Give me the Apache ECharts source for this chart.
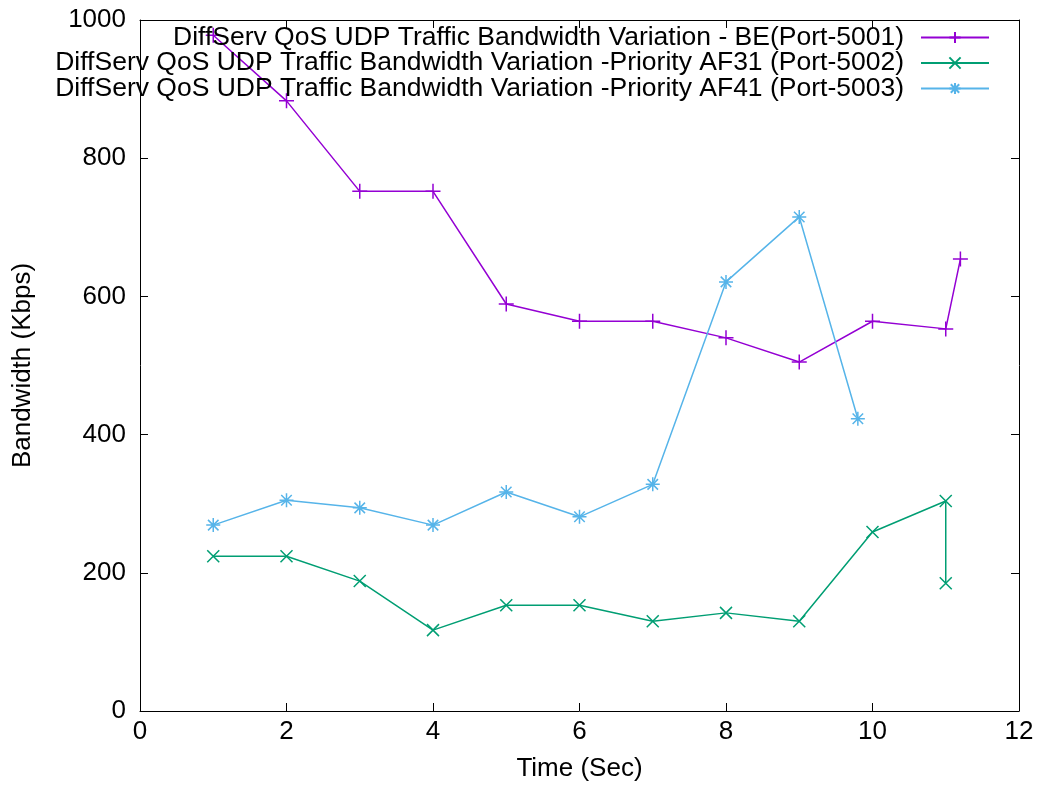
<!DOCTYPE html>
<html>
<head>
<meta charset="utf-8">
<script src="https://cdn.jsdelivr.net/npm/echarts@6/dist/echarts.min.js"></script>
<style>html,body{margin:0;padding:0;background:#fff;}#c{width:1041px;height:790px;}</style>
</head>
<body>
<div id="c"></div>
<script>
// ---- data ----
const seriesNames = [
  'DiffServ QoS UDP Traffic Bandwidth Variation - BE(Port-5001)',
  'DiffServ QoS UDP Traffic Bandwidth Variation -Priority AF31 (Port-5002)',
  'DiffServ QoS UDP Traffic Bandwidth Variation -Priority AF41 (Port-5003)'
];
const beX   = [1, 2, 3, 4, 5, 6, 7, 8, 9, 10, 11, 11.2];
const beY   = [978, 883, 752, 752, 589, 564, 564, 540, 505, 564, 553, 654];
const af31X = [1, 2, 3, 4, 5, 6, 7, 8, 9, 10, 11, 11];
const af31Y = [224, 224, 188, 117, 153, 153, 130, 142, 130, 259, 304, 185];
const af41X = [1, 2, 3, 4, 5, 6, 7, 8, 9, 9.8];
const af41Y = [269, 305, 294, 269, 317, 281, 328, 621, 715, 423];
const xTickLabels = ['0', '2', '4', '6', '8', '10', '12'];
const yTickLabels = ['0', '200', '400', '600', '800', '1000'];

const colors = ['#9400d3', '#009e73', '#56b4e9'];
const symPlus = 'path://M0,-1L0,1M-1,0L1,0';
const symCross = 'path://M-1,-1L1,1M-1,1L1,-1';
const symStar = 'path://M0,-1L0,1M-1,0L1,0M-0.75,-0.75L0.75,0.75M-0.75,0.75L0.75,-0.75';

function pairs(xs, ys) { return xs.map((x, i) => [x, ys[i]]); }

const FONT = 'Liberation Sans, Arial, sans-serif';
const chart = echarts.init(document.getElementById('c'), null, {renderer: 'canvas'});

function mkSeries(name, data, color, sym, size) {
  return {
    name: name, type: 'line', data: data,
    xAxisIndex: 0, yAxisIndex: 0,
    symbol: sym, symbolSize: size, showAllSymbol: true,
    lineStyle: {color: color, width: 1.5},
    itemStyle: {color: color, borderColor: color, borderWidth: 1.5},
    emphasis: {disabled: true},
    animation: false
  };
}

const axisCommon = {
  axisLine: {show: true, onZero: false, lineStyle: {color: '#000', width: 1}},
  axisTick: {show: true, inside: true, length: 8, lineStyle: {color: '#000', width: 1}},
  splitLine: {show: false}
};

chart.setOption({
  backgroundColor: '#fff',
  animation: false,
  grid: {left: 140, right: 22, top: 20, bottom: 79, containLabel: false},
  legend: {
    orient: 'vertical', align: 'right',
    right: 51, top: 24, padding: 0, itemGap: -1.5,
    itemWidth: 68, itemHeight: 14,
    data: seriesNames,
    textStyle: {fontFamily: FONT, fontSize: 26.5, color: '#000', lineHeight: 25, padding: [0, 12, 0, 0]},
    selectedMode: false
  },
  xAxis: [
    Object.assign({
      type: 'value', min: 0, max: 12, interval: 2, position: 'bottom',
      name: 'Time (Sec)', nameLocation: 'middle', nameGap: 45,
      nameTextStyle: {fontFamily: FONT, fontSize: 26, color: '#000'},
      axisLabel: {fontFamily: FONT, fontSize: 26, color: '#000', margin: 8,
        formatter: v => xTickLabels[Math.round(v / 2)]}
    }, axisCommon),
    Object.assign({
      type: 'value', min: 0, max: 12, interval: 2, position: 'top',
      axisLabel: {show: false}
    }, axisCommon)
  ],
  yAxis: [
    Object.assign({
      type: 'value', min: 0, max: 1000, interval: 200, position: 'left',
      name: 'Bandwidth (Kbps)', nameLocation: 'middle', nameGap: 104,
      nameTextStyle: {fontFamily: FONT, fontSize: 26, color: '#000'},
      axisLabel: {fontFamily: FONT, fontSize: 26, color: '#000', margin: 14,
        formatter: v => yTickLabels[Math.round(v / 200)]}
    }, axisCommon),
    Object.assign({
      type: 'value', min: 0, max: 1000, interval: 200, position: 'right',
      axisLabel: {show: false}
    }, axisCommon)
  ],
  series: [
    mkSeries(seriesNames[0], pairs(beX, beY), colors[0], symPlus, 15),
    mkSeries(seriesNames[1], pairs(af31X, af31Y), colors[1], symCross, 12),
    mkSeries(seriesNames[2], pairs(af41X, af41Y), colors[2], symStar, 14)
  ]
});
</script>
</body>
</html>
